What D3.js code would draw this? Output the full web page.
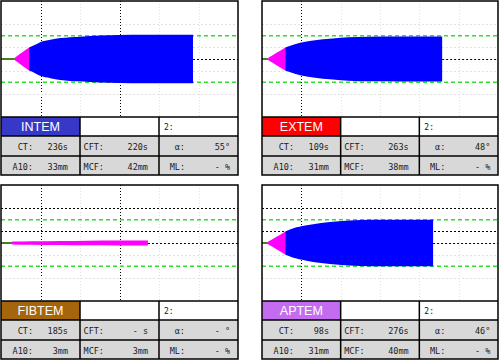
<!DOCTYPE html>
<html>
<head>
<meta charset="utf-8">
<script src="https://d3js.org/d3.v7.min.js"></script>
<style>
  body { margin: 0; background: #fff; }
  text { font-family: "DejaVu Sans Mono", monospace; }
</style>
</head>
<body>
<svg width="500" height="360"></svg>
<script>
// test names and their header colours
var tests = ["INTEM", "EXTEM", "FIBTEM", "APTEM"];
var headColors = ["#3838c8", "#ff0000", "#a4650d", "#c46cf0"];

// result table values
var ctVal  = ["236s", "109s", "185s", "98s"];
var cftVal = ["220s", "263s", "- s", "276s"];
var alpVal = ["55°", "48°", "- °", "46°"];
var a10Val = ["33mm", "31mm", "3mm", "31mm"];
var mcfVal = ["42mm", "38mm", "3mm", "40mm"];
var mlVal  = ["- %", "- %", "- %", "- %"];

// traces: time (min) and amplitude (mm)
var intemT = [3.5, 5.3, 7.1, 8.5, 9.9, 12.5, 15, 20, 25, 30, 36, 48.6];
var intemA = [2, 11, 20, 24, 29, 33, 36, 38.5, 40.5, 41.5, 42, 42];
var extemT = [1.6, 3.8, 5.9, 7, 9.7, 13, 18, 22, 27, 35, 45.8];
var extemA = [2, 11, 20, 22.5, 28, 32, 35.5, 37.5, 38.5, 38.7, 38.7];
var fibtemT = [2.8, 8, 15, 22, 30, 37.2];
var fibtemA = [2.5, 3, 3.5, 4, 4.2, 4.2];
var aptemT = [1.5, 3.8, 5.9, 8, 11, 15, 19.5, 25, 30, 43.5];
var aptemA = [2, 11, 20, 25.5, 30, 34.5, 37.5, 39.5, 40, 40.2];
var traceT = [intemT, extemT, fibtemT, aptemT];
var traceA = [intemA, extemA, fibtemA, aptemA];

// time markers drawn as black dotted lines, grid rows drawn dark
var markT = [[10, 30], [10], [10, 30], [10]];
var darkGrid = [[], [], [30, 10], [30, 10]];

var svg = d3.select("svg");

var chartH = 116, rowH = [19, 20, 19];

tests.forEach(function(name, i) {
    var col = i % 2, row = Math.floor(i / 2);
    var pw = col ? 236 : 237;
    var g = svg.append("g")
        .attr("transform", "translate(" + (col ? 262 : 1) + "," + (row ? 185 : 1) + ")");

    var x = d3.scaleLinear().domain([0, 60]).range([0, pw]);
    var y = d3.scaleLinear().domain([-50, 50]).range([chartH, 0]);

    g.append("rect").attr("width", pw).attr("height", chartH).attr("fill", "#fff");

    // faint grid
    d3.range(10, 60, 10).forEach(function(t) {
        var dark = markT[i].indexOf(t) >= 0;
        g.append("line")
            .attr("x1", Math.round(x(t)) + 0.5).attr("x2", Math.round(x(t)) + 0.5)
            .attr("y1", 0).attr("y2", chartH)
            .attr("stroke", dark ? "#000" : "#e2e2e2")
            .attr("stroke-dasharray", "1,2");
    });
    [-30, -10, 10, 30].forEach(function(v) {
        var dark = darkGrid[i].indexOf(v) >= 0;
        g.append("line")
            .attr("x1", 0).attr("x2", pw)
            .attr("y1", Math.round(y(v)) + 0.5).attr("y2", Math.round(y(v)) + 0.5)
            .attr("stroke", dark ? "#000" : "#e2e2e2")
            .attr("stroke-dasharray", "2,2");
    });

    // reference lines at 40mm amplitude
    [-20, 20].forEach(function(v) {
        g.append("line")
            .attr("x1", 0).attr("x2", pw)
            .attr("y1", y(v)).attr("y2", y(v))
            .attr("stroke", "#2ee02e")
            .attr("stroke-width", 1.5)
            .attr("stroke-dasharray", "4,3");
    });

    var pts = traceT[i].map(function(t, k) { return {t: t, a: traceA[i][k]}; });
    var split = pts.findIndex(function(d) { return d.a >= 20; });
    if (split < 0) split = pts.length - 1;

    var area = d3.area()
        .x(function(d) { return x(d.t); })
        .y0(function(d) { return y(-d.a / 2); })
        .y1(function(d) { return y(d.a / 2); })
        .curve(d3.curveMonotoneX);

    // flat line before clotting time
    g.append("line")
        .attr("x1", x(0)).attr("x2", x(pts[0].t))
        .attr("y1", y(0)).attr("y2", y(0))
        .attr("stroke", "#4b7d22").attr("stroke-width", 2);

    g.append("path")
        .datum(pts.slice(0, split + 1))
        .attr("fill", "#ff00ff")
        .attr("d", area);

    if (split < pts.length - 1) {
        g.append("path")
            .datum(pts.slice(split))
            .attr("fill", "#0000ff")
            .attr("d", area);
    }

    var tEnd = pts[pts.length - 1].t;
    g.append("line")
        .attr("x1", x(tEnd)).attr("x2", pw)
        .attr("y1", Math.round(y(0)) + 0.5).attr("y2", Math.round(y(0)) + 0.5)
        .attr("stroke", "#000").attr("stroke-dasharray", "2,2");

    // result table
    var cw = pw / 3;
    var y1 = chartH, y2 = y1 + rowH[0], y3 = y2 + rowH[1], y4 = y3 + rowH[2];

    g.append("rect").attr("x", 0).attr("y", y1).attr("width", cw).attr("height", rowH[0])
        .attr("fill", headColors[i]);
    g.append("rect").attr("x", cw).attr("y", y1).attr("width", cw * 2).attr("height", rowH[0])
        .attr("fill", "#fff");
    g.append("rect").attr("x", 0).attr("y", y2).attr("width", pw).attr("height", y4 - y2)
        .attr("fill", "#d8d8d8");

    g.append("text")
        .attr("x", cw / 2).attr("y", y1 + 14)
        .attr("text-anchor", "middle")
        .style("font-family", "'Liberation Sans', Arial, sans-serif")
        .style("font-size", "12.5px")
        .attr("fill", "#fff")
        .text(name);
    g.append("text")
        .attr("x", cw * 2 + 5).attr("y", y1 + 13)
        .style("font-size", "8px")
        .attr("fill", "#111")
        .text("2:");

    var labels = [["CT:", "CFT:", "α:"], ["A10:", "MCF:", "ML:"]];
    var vals = [[ctVal[i], cftVal[i], alpVal[i]], [a10Val[i], mcfVal[i], mlVal[i]]];
    var labEnd = [32, 24, 26], valEnd = [67, 68, 71];
    [y2, y3].forEach(function(ry, r) {
        for (var c = 0; c < 3; c++) {
            g.append("text")
                .attr("x", c * cw + labEnd[c]).attr("y", ry + 13.5)
                .attr("text-anchor", "end")
                .style("font-size", "8.5px")
                .attr("fill", "#1a1a1a")
                .text(labels[r][c]);
            g.append("text")
                .attr("x", c * cw + valEnd[c]).attr("y", ry + 13.5)
                .attr("text-anchor", "end")
                .style("font-size", "8.5px")
                .attr("fill", "#1a1a1a")
                .text(vals[r][c]);
        }
    });

    // table lines
    [y1, y2, y3].forEach(function(ly) {
        g.append("line").attr("x1", 0).attr("x2", pw).attr("y1", ly).attr("y2", ly)
            .attr("stroke", "#000").attr("stroke-width", 1.5);
    });
    [cw, cw * 2].forEach(function(lx) {
        g.append("line").attr("x1", lx).attr("x2", lx).attr("y1", y1).attr("y2", y4)
            .attr("stroke", "#000").attr("stroke-width", 1.5);
    });
    g.append("rect").attr("width", pw).attr("height", y4)
        .attr("fill", "none").attr("stroke", "#000").attr("stroke-width", 1.5);
});
</script>
</body>
</html>
